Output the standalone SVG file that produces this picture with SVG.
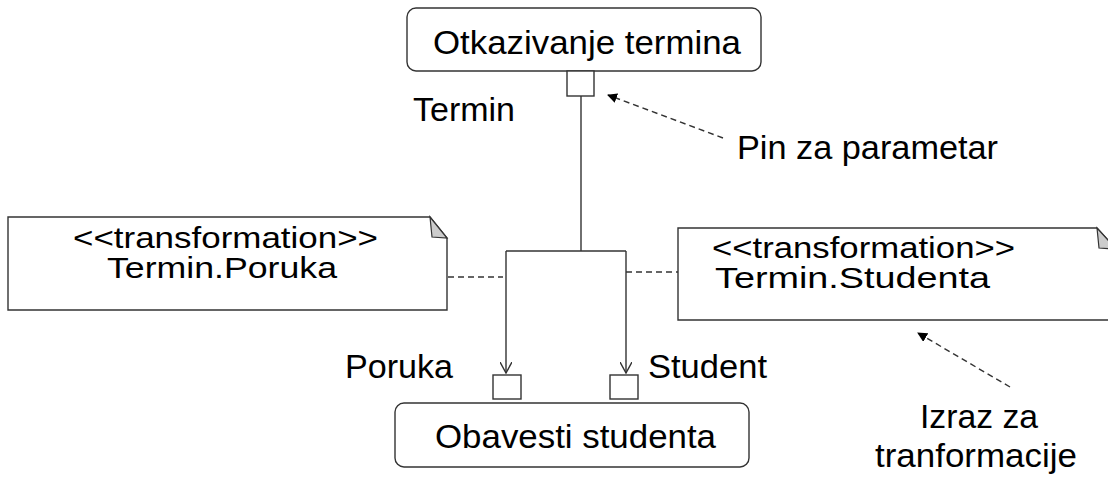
<svg xmlns="http://www.w3.org/2000/svg" width="1108" height="480" viewBox="0 0 1108 480">
<style>
.t{font-family:"Liberation Sans",Arial,sans-serif;font-size:33px;fill:#000}
.n{font-family:"Liberation Sans",Arial,sans-serif;font-size:29px;fill:#000}
.box{fill:#fff;stroke:#333;stroke-width:1.4}
.ln{fill:none;stroke:#333;stroke-width:1.4}
.dash{fill:none;stroke:#333;stroke-width:1.4;stroke-dasharray:6,4}
.fold{fill:#ccc;stroke:#333;stroke-width:1.2}
</style>
<defs>
<marker id="open" viewBox="0 0 12 12" refX="11" refY="6" markerWidth="12" markerHeight="12" markerUnits="userSpaceOnUse" orient="auto">
<path d="M0,0 L11,6 L0,12" fill="none" stroke="#333" stroke-width="1.4"/>
</marker>
<marker id="filled" viewBox="0 0 10 10" refX="9" refY="5" markerWidth="10" markerHeight="10" markerUnits="userSpaceOnUse" orient="auto">
<path d="M0,0 L10,5 L0,10 Z" fill="#000"/>
</marker>
</defs>
<g id="connectors">
<path class="ln" d="M581,96 V251"/>
<path class="ln" d="M506,251 H626"/>
<path class="ln" d="M506,251 V373" marker-end="url(#open)"/>
<path class="ln" d="M626,251 V373" marker-end="url(#open)"/>
<path class="dash" d="M448,277 H503"/>
<path class="dash" d="M626,272 H678"/>
<path class="dash" d="M723,138 L608,95" marker-end="url(#filled)"/>
<path class="dash" d="M1010,387 L918,333" marker-end="url(#filled)"/>
</g>
<g id="node-otkazivanje">
<rect class="box" x="407" y="8" width="354" height="63" rx="9"/>
<text class="t" x="433" y="54" textLength="308" lengthAdjust="spacingAndGlyphs">Otkazivanje termina</text>
</g>
<g id="pin-termin">
<rect class="box" x="567" y="71" width="27" height="25"/>
<text class="t" x="413" y="121" textLength="102" lengthAdjust="spacingAndGlyphs">Termin</text>
</g>
<g id="label-pin">
<text class="t" x="737" y="159" textLength="261" lengthAdjust="spacingAndGlyphs">Pin za parametar</text>
</g>
<g id="note-poruka">
<path class="box" d="M8,217 H430 L447,238 V310 H8 Z"/>
<path class="fold" d="M430,217 L432,237 L447,238 Z"/>
<text class="n" x="73" y="248" textLength="305" lengthAdjust="spacingAndGlyphs">&lt;&lt;transformation&gt;&gt;</text>
<text class="n" x="107" y="278" textLength="230" lengthAdjust="spacingAndGlyphs">Termin.Poruka</text>
</g>
<g id="note-studenta">
<path class="box" d="M678,228 H1097 L1116,249 V320 H678 Z"/>
<path class="fold" d="M1097,228 L1099,248 L1116,249 Z"/>
<text class="n" x="712" y="258" textLength="303" lengthAdjust="spacingAndGlyphs">&lt;&lt;transformation&gt;&gt;</text>
<text class="n" x="715" y="288" textLength="275" lengthAdjust="spacingAndGlyphs">Termin.Studenta</text>
</g>
<g id="pin-poruka">
<rect class="box" x="493" y="375" width="28" height="24"/>
<text class="t" x="345" y="378" textLength="108" lengthAdjust="spacingAndGlyphs">Poruka</text>
</g>
<g id="pin-student">
<rect class="box" x="610" y="375" width="28" height="24"/>
<text class="t" x="648" y="378" textLength="119" lengthAdjust="spacingAndGlyphs">Student</text>
</g>
<g id="node-obavesti">
<rect class="box" x="395" y="403" width="354" height="64" rx="9"/>
<text class="t" x="435" y="448" textLength="281" lengthAdjust="spacingAndGlyphs">Obavesti studenta</text>
</g>
<g id="label-izraz">
<text class="t" x="920" y="428" textLength="118" lengthAdjust="spacingAndGlyphs">Izraz za</text>
<text class="t" x="875" y="467" textLength="202" lengthAdjust="spacingAndGlyphs">tranformacije</text>
</g>
</svg>
